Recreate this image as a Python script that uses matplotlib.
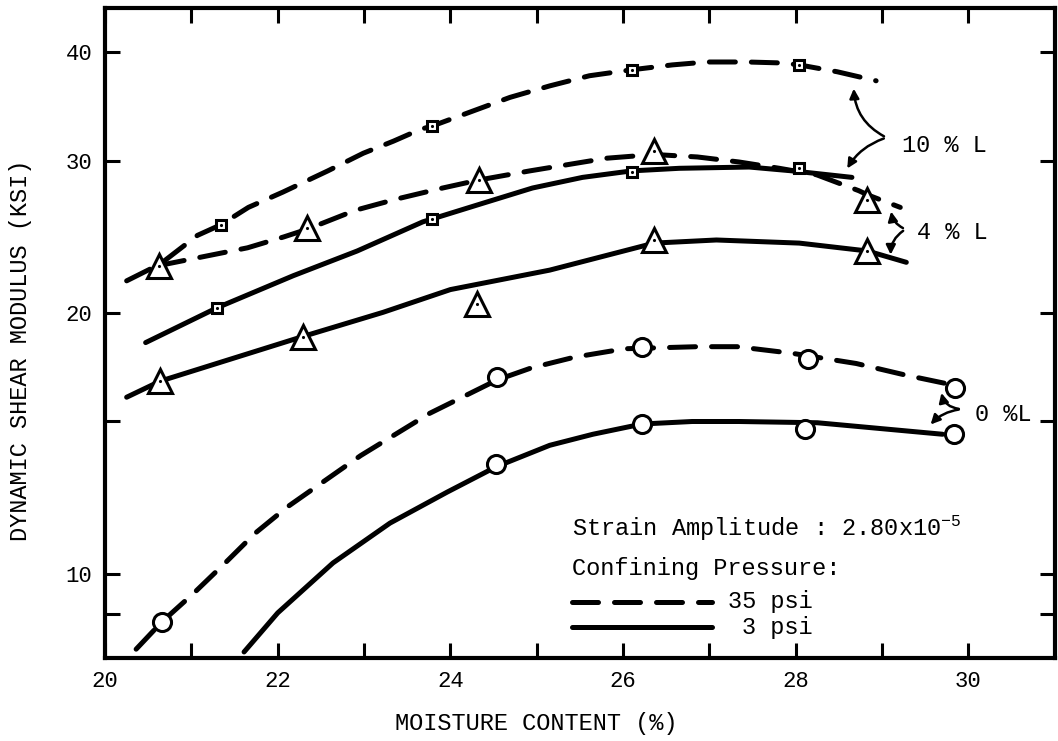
import matplotlib
matplotlib.use('Agg')
import matplotlib.pyplot as plt

plt.rcParams.update({
    'font.family': ['Liberation Mono', 'DejaVu Sans Mono'],
    'mathtext.fontset': 'custom',
    'mathtext.rm': 'Liberation Mono',
    'mathtext.default': 'rm',
    'axes.linewidth': 3.0,
})

# 10 %L, 35 psi (dashed, squares)
a_curve_x = [20.25, 20.64, 21.07, 21.34, 21.66, 22.06, 22.58, 22.99, 23.34, 23.65, 23.79,
             24.69, 25.15, 25.61, 26.10, 26.57, 26.97, 27.44, 27.84, 28.04, 28.48, 28.93]
a_curve_y = [21.8, 22.8, 24.6, 25.3, 26.5, 27.6, 29.2, 30.6, 31.6, 32.6, 32.9,
             35.5, 36.6, 37.6, 38.2, 38.7, 39.0, 39.0, 38.9, 38.7, 38.0, 37.1]
a_pts_x = [21.34, 23.79, 26.10, 28.04]
a_pts_y = [25.3, 32.9, 38.2, 38.7]

# 4 %L, 35 psi (dashed, triangles)
b_curve_x = [20.62, 21.65, 22.07, 22.34, 22.90, 23.38, 23.91, 24.33, 24.92, 25.81,
             26.36, 26.86, 27.34, 27.81, 28.24, 28.73, 28.83, 29.21]
b_curve_y = [22.7, 23.8, 24.5, 25.0, 26.3, 27.1, 27.9, 28.5, 29.2, 30.2,
             30.5, 30.3, 29.9, 29.4, 28.9, 27.7, 27.4, 26.5]
b_pts_x = [20.62, 22.34, 24.33, 26.36, 28.83]
b_pts_y = [22.7, 25.1, 28.5, 30.8, 27.0]

# 10 %L, 3 psi (solid, squares)
c_curve_x = [20.47, 21.30, 22.18, 22.92, 23.68, 24.38, 24.95, 25.53, 26.10, 26.65, 27.46, 27.96, 28.65]
c_curve_y = [18.5, 20.3, 22.1, 23.6, 25.5, 26.8, 27.9, 28.7, 29.2, 29.4, 29.5, 29.2, 28.7]
c_pts_x = [21.30, 23.79, 26.10, 28.04]
c_pts_y = [20.3, 25.7, 29.1, 29.4]

# 4 %L, 3 psi (solid, triangles)
d_curve_x = [20.25, 20.64, 22.29, 23.22, 24.00, 25.15, 26.36, 27.08, 28.04, 28.83, 29.28]
d_curve_y = [16.0, 16.7, 18.8, 20.05, 21.3, 22.43, 24.1, 24.3, 24.1, 23.6, 22.9]
d_pts_x = [20.64, 22.29, 24.31, 26.36, 28.83]
d_pts_y = [16.7, 18.8, 20.5, 24.3, 23.6]

# 0 %L, 35 psi (dashed, circles)
e_curve_x = [20.36, 20.66, 21.03, 21.40, 21.74, 22.11, 22.96, 23.76, 24.54, 24.94, 25.44,
             26.02, 26.86, 27.32, 27.96, 28.70, 29.27, 29.73]
e_curve_y = [8.19, 8.81, 9.51, 10.32, 11.15, 11.95, 13.7, 15.33, 16.75, 17.3, 17.8,
             18.2, 18.3, 18.3, 17.98, 17.5, 16.97, 16.6]
e_pts_x = [20.66, 24.54, 26.22, 28.14, 29.84]
e_pts_y = [8.81, 16.9, 18.3, 17.7, 16.4]

# 0 %L, 3 psi (solid, circles)
f_curve_x = [21.61, 22.00, 22.64, 23.30, 23.96, 24.53, 25.15, 25.65, 26.22, 26.80, 27.34, 28.25, 29.70]
f_curve_y = [8.13, 9.02, 10.3, 11.45, 12.43, 13.3, 14.08, 14.5, 14.9, 15.0, 15.0, 14.95, 14.5]
f_pts_x = [24.53, 26.22, 28.11, 29.83]
f_pts_y = [13.4, 14.9, 14.7, 14.5]

DASH = (0, (5.2, 3.2))
LW = 3.6

fig = plt.figure(figsize=(10.58, 7.41), dpi=100)
ax = fig.add_axes([0.0993, 0.112, 0.8977, 0.877])

series = [
    (a_curve_x, a_curve_y, a_pts_x, a_pts_y, DASH, 's', 7),
    (b_curve_x, b_curve_y, b_pts_x, b_pts_y, DASH, '^', 17),
    (c_curve_x, c_curve_y, c_pts_x, c_pts_y, '-', 's', 7),
    (d_curve_x, d_curve_y, d_pts_x, d_pts_y, '-', '^', 17),
    (e_curve_x, e_curve_y, e_pts_x, e_pts_y, DASH, 'o', 13),
    (f_curve_x, f_curve_y, f_pts_x, f_pts_y, '-', 'o', 13),
]

for cx, cy, px, py, ls, mk, ms in series:
    ax.plot(cx, cy, color='black', lw=LW, linestyle=ls,
            dash_capstyle='round', solid_capstyle='round', zorder=2)
    ax.plot(px, py, linestyle='none', marker=mk, markersize=ms,
            markerfacecolor='white', markeredgecolor='black',
            markeredgewidth=2.2, zorder=3)
    if mk != 'o':
        # small centre dot drawn inside squares and triangles
        ax.plot(px, py, linestyle='none', marker='.', markersize=2.5,
                color='black', zorder=4)

ax.set_yscale('log')
ax.set_xlim(20, 31)
ax.set_ylim(8, 45)

ax.set_xticks(range(20, 31))
ax.set_xticklabels([str(v) if v % 2 == 0 else '' for v in range(20, 31)], fontsize=16)
ax.set_yticks([9, 10, 15, 20, 30, 40])
ax.set_yticklabels(['', '10', '', '20', '30', '40'], fontsize=16)
ax.minorticks_off()
ax.tick_params(direction='in', length=11, width=2.2, top=True, right=True, pad=9)

ax.set_xlabel('MOISTURE CONTENT (%)', fontsize=17)
ax.xaxis.set_label_coords(0.454, -0.083)
ax.set_ylabel('DYNAMIC SHEAR MODULUS (KSI)', fontsize=17)
ax.yaxis.set_label_coords(-0.077, 0.474)

# curve-group labels with curved arrows
arrow = dict(arrowstyle='-|>', color='black', lw=1.8, mutation_scale=14)
ax.text(29.23, 31.2, '10 % L', fontsize=17, va='center', ha='left')
ax.annotate('', xy=(28.67, 36.6), xytext=(29.05, 31.9),
            arrowprops=dict(arrow, connectionstyle='arc3,rad=-0.3'))
ax.annotate('', xy=(28.58, 29.2), xytext=(29.05, 31.9),
            arrowprops=dict(arrow, connectionstyle='arc3,rad=0.2'))

ax.text(29.40, 24.8, '4 % L', fontsize=17, va='center', ha='left')
ax.annotate('', xy=(29.10, 26.4), xytext=(29.27, 25.0),
            arrowprops=dict(arrow, connectionstyle='arc3,rad=-0.3'))
ax.annotate('', xy=(29.10, 23.2), xytext=(29.27, 25.0),
            arrowprops=dict(arrow, connectionstyle='arc3,rad=0.3'))

ax.text(30.08, 15.3, '0 %L', fontsize=17, va='center', ha='left')
ax.annotate('', xy=(29.68, 16.3), xytext=(29.92, 15.5),
            arrowprops=dict(arrow, connectionstyle='arc3,rad=-0.4'))
ax.annotate('', xy=(29.54, 14.8), xytext=(29.92, 15.5),
            arrowprops=dict(arrow, connectionstyle='arc3,rad=0.2'))

# legend block
ax.text(0.4916, 0.20, 'Strain Amplitude : 2.80x10$^{-5}$', transform=ax.transAxes,
        fontsize=17, va='center', ha='left')
ax.text(0.4916, 0.1385, 'Confining Pressure:', transform=ax.transAxes,
        fontsize=17, va='center', ha='left')
ax.plot([0.4916, 0.639], [0.0862, 0.0862], transform=ax.transAxes, color='black',
        lw=LW, linestyle=DASH, dash_capstyle='round')
ax.plot([0.4916, 0.639], [0.0477, 0.0477], transform=ax.transAxes, color='black',
        lw=LW, solid_capstyle='round')
ax.text(0.745, 0.0862, '35 psi', transform=ax.transAxes, fontsize=17, va='center', ha='right')
ax.text(0.745, 0.0477, '3 psi', transform=ax.transAxes, fontsize=17, va='center', ha='right')

fig.savefig('out.png', dpi=100, facecolor='white')
